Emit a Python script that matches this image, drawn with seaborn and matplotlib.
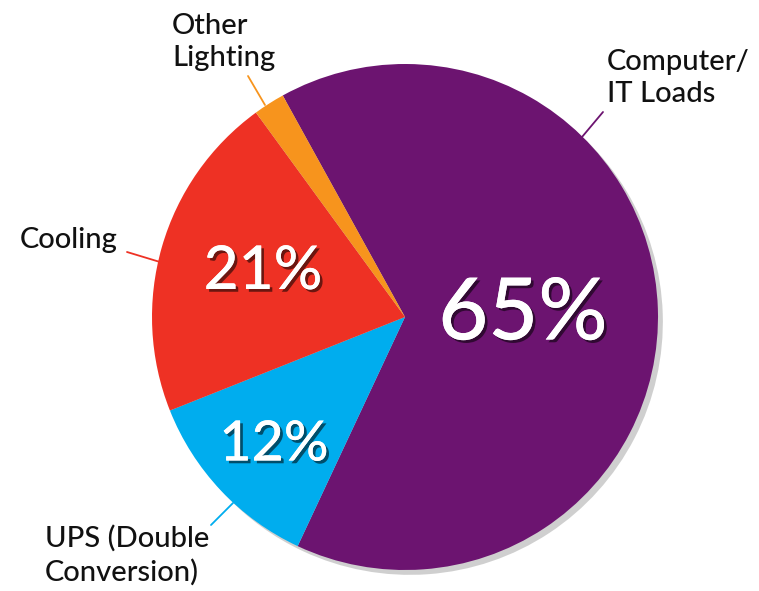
import matplotlib
matplotlib.use("Agg")
import matplotlib.pyplot as plt
import matplotlib.patheffects as pe
import seaborn as sns

categories = ["Computer/\nIT Loads", "UPS (Double\nConversion)", "Cooling", "Other\nLighting"]
values = [65, 12, 21, 2]
pct_labels = ["65%", "12%", "21%", ""]
colors = ["#6C1470", "#00ADEE", "#EE3124", "#F7941D"]

sns.set_theme(style="white")
plt.rcParams["font.family"] = ["Lato", "DejaVu Sans"]

W, H = 759, 591
fig = plt.figure(figsize=(W / 100, H / 100), dpi=100)
ax = fig.add_axes([0, 0, 1, 1])

cx, cy, r = 405, H - 317, 253
wedges, _ = ax.pie(values, colors=colors, startangle=118.9, counterclock=False,
                   center=(cx, cy), radius=r, frame=True,
                   wedgeprops=dict(linewidth=0),
                   shadow=dict(ox=3.5, oy=-3.5, facecolor="#777777",
                               edgecolor="none", alpha=0.35))
ax.set_xlim(0, W)
ax.set_ylim(0, H)
ax.set_aspect("equal")
ax.axis("off")

shadow = [pe.withSimplePatchShadow(offset=(2, -2), shadow_rgbFace="#000000", alpha=0.55),
          pe.Normal()]

# percentage labels
pct_pos = [(523, 315, 62), (274, 445, 40), (263, 272, 43.5)]
for txt, (x, y, fs) in zip(pct_labels, pct_pos):
    ax.text(x, H - y, txt, color="white", fontsize=fs, ha="center", va="center",
            fontweight="medium", path_effects=shadow)

# category labels with leader lines
label_pos = [(607, 78), (45, 555), (20, 240), (172, 42)]
leaders = [((603, 112), (582, 137)), ((211, 525), (233, 503)),
           ((127, 252), (160, 262)), ((248, 76), (265, 105))]
for cat, (x, y), (p0, p1), col in zip(categories, label_pos, leaders, colors):
    ax.text(x, H - y, cat, color="#111111", fontsize=21, ha="left", va="center",
            linespacing=1.3, fontweight="medium")
    ax.plot([p0[0], p1[0]], [H - p0[1], H - p1[1]], color=col, lw=1.3)

fig.savefig("out.png", dpi=100, facecolor="white")
